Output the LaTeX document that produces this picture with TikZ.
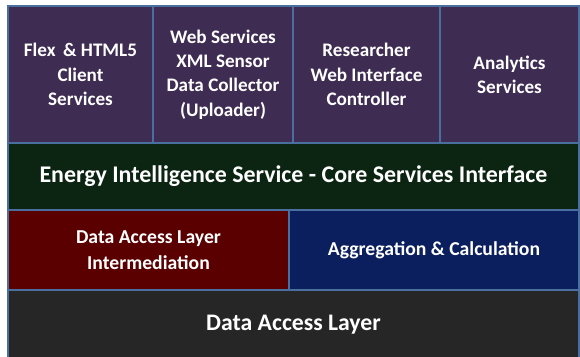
\documentclass[tikz,border=0pt]{standalone}
\usepackage{fontspec}
\setmainfont{Carlito}
\usetikzlibrary{positioning}

\definecolor{svcpurple}{HTML}{3E2C52}
\definecolor{coregreen}{HTML}{0C2412}
\definecolor{dalred}{HTML}{5A0000}
\definecolor{aggblue}{HTML}{0B1F5E}
\definecolor{dalgray}{HTML}{262626}
\definecolor{edgeblue}{HTML}{4A6E9E}

\begin{document}
\begin{tikzpicture}[
      node distance = 0pt,
      x=1cm, y=1cm
    ]

    \tikzstyle{layer} = [
        rectangle,
        draw=edgeblue,
        line width=0.7pt,
        text=white,
        text centered,
        align=center,
        inner sep=0pt,
        outer sep=0pt,
        font=\bfseries\fontsize{10.9}{13.8}\selectfont
    ]

    \tikzstyle{service} = [
        layer,
        fill=svcpurple,
        minimum height=2.74cm
    ]

    \useasboundingbox (0,0) rectangle (11.6,-7.12);

    \node [service, minimum width=2.9cm, anchor=north west] at (0.16,-0.12) (flex) {Flex \,\& HTML5\\Client\\Services};
    \node [service, minimum width=2.8cm, right=of flex]       (websvc) {Web Services\\XML Sensor\\Data Collector\\(Uploader)};
    \node [service, minimum width=2.94cm, right=of websvc]    (research) {Researcher\\Web Interface\\Controller};
    \node [service, minimum width=2.78cm, right=of research]  (analytics) {Analytics\\Services};

    \node [layer, fill=coregreen, minimum width=11.42cm, minimum height=1.34cm,
           below=of flex.south west, anchor=north west,
           font=\bfseries\fontsize{13.6}{16}\selectfont]    (core) {Energy Intelligence Service - Core Services Interface};

    \node [layer, fill=dalred, minimum width=5.62cm, minimum height=1.6cm,
           below=of core.south west, anchor=north west,
           font=\bfseries\fontsize{11.2}{14.6}\selectfont]  (intermed) {Data Access Layer\\Intermediation};
    \node [layer, fill=aggblue, minimum width=5.8cm, minimum height=1.6cm,
           right=of intermed,
           font=\bfseries\fontsize{11.2}{14.6}\selectfont]  (aggreg) {Aggregation \& Calculation};

    % runs past the lower edge, as in the original
    \node [layer, fill=dalgray, minimum width=11.42cm, minimum height=1.7cm,
           text depth=0.4cm,
           below=of intermed.south west, anchor=north west,
           font=\bfseries\fontsize{13.5}{16}\selectfont]    (dal) {Data Access Layer};

    \end{tikzpicture}
\end{document}
